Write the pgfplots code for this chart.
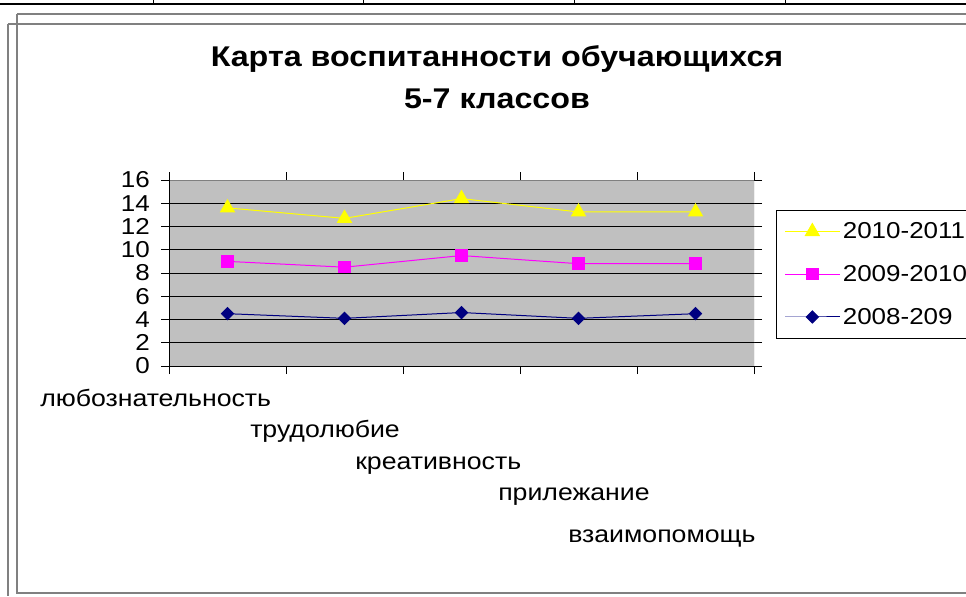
\documentclass[border=0pt]{standalone}
\usepackage{pgfplots}
\pgfplotsset{compat=1.18}
\usepackage{fontspec}
\setmainfont[FakeStretch=1.13]{Liberation Sans}
\definecolor{plotbg}{HTML}{C0C0C0}
\definecolor{frgray}{HTML}{808080}
\definecolor{navyb}{HTML}{000080}
\definecolor{yell}{HTML}{FFFF00}
\definecolor{magn}{HTML}{FF00FF}
\begin{document}
\begin{tikzpicture}
\begin{scope}[x=0.75pt,y=-0.75pt]
\draw[line width=1.5pt] (0,4)--(966,4);
\foreach \xx in {153,363,574,785} \draw[line width=0.75pt] (\xx,0)--(\xx,4);
\draw[frgray,line width=1pt] (17,14)--(966,14);
\draw[frgray,line width=1pt] (17,14)--(17,593)--(966,593);
\draw[frgray,line width=1pt] (8,24)--(966,24);
\draw[frgray,line width=1pt] (8,24)--(8,596);
\node[font=\bfseries\fontsize{21.4}{26}\selectfont,anchor=base] at (497,66) {Карта воспитанности обучающихся};
\node[font=\bfseries\fontsize{21.4}{26}\selectfont,anchor=base] at (497,108) {5-7 классов};
\begin{scope}[font=\fontsize{17.7}{20}\selectfont]
\node[anchor=base west,inner sep=0pt] at (40,406) {любознательность};
\node[anchor=base west,inner sep=0pt] at (250,437) {трудолюбие};
\node[anchor=base west,inner sep=0pt] at (355,469) {креативность};
\node[anchor=base west,inner sep=0pt] at (498,500) {прилежание};
\node[anchor=base west,inner sep=0pt] at (568,542) {взаимопомощь};
\end{scope}
\end{scope}
\begin{axis}[
  at={(126.75pt,-274.5pt)}, anchor=south west,
  scale only axis, width=438.75pt, height=139.5pt,
  xmin=0, xmax=5, ymin=0, ymax=16,
  xtick={0,1,2,3,4,5}, xticklabels={},
  ytick={0,2,...,16},
  axis background/.style={fill=plotbg},
  axis line style={draw=none},
  ymajorgrids, grid style={black, line width=0.75pt},
  tick align=outside, major tick length=6pt,
  tick style={black, line width=0.75pt},
  /pgf/number format/assume math mode=true,
  yticklabel style={font=\fontsize{17.25}{18}\selectfont, inner sep=0pt, anchor=east, xshift=-8.25pt},
  reverse legend,
  legend style={at={(axis description cs:1,1)}, anchor=north west, xshift=16.5pt, yshift=-22.5pt,
    draw=black, line width=0.75pt, font=\fontsize{17.25}{20}\selectfont,
    row sep=14.5pt, inner xsep=6pt, inner ysep=7pt},
  legend cell align=left,
  legend image code/.code={\draw[#1,mark repeat=2,mark phase=2] plot coordinates {(0pt,0pt) (20.5pt,0pt) (41pt,0pt)};},
]
\addplot[navyb, line width=0.75pt, mark=square*, mark size=3.2pt, mark options={rotate=45, fill=navyb}]
  coordinates {(0.5,4.5) (1.5,4.1) (2.5,4.6) (3.5,4.1) (4.5,4.5)};
\addlegendentry{2008-209}
\addplot[magn, line width=0.75pt, mark=square*, mark size=4.3pt, mark options={fill=magn}]
  coordinates {(0.5,9.0) (1.5,8.5) (2.5,9.5) (3.5,8.8) (4.5,8.8)};
\addlegendentry{2009-2010}
\addplot[yell, line width=0.75pt, mark=triangle*, mark size=6pt, mark options={fill=yell}]
  coordinates {(0.5,13.6) (1.5,12.7) (2.5,14.4) (3.5,13.25) (4.5,13.25)};
\addlegendentry{2010-2011}
\draw[frgray, line width=0.75pt] (axis cs:0,16)--(axis cs:5,16)--(axis cs:5,0);
\draw[black, line width=0.75pt] (axis cs:0,16)--(axis cs:0,0)--(axis cs:5,0);
\end{axis}
\pgfresetboundingbox
\path[use as bounding box] (0pt,0pt) rectangle (724.5pt,-447pt);
\end{tikzpicture}
\end{document}
